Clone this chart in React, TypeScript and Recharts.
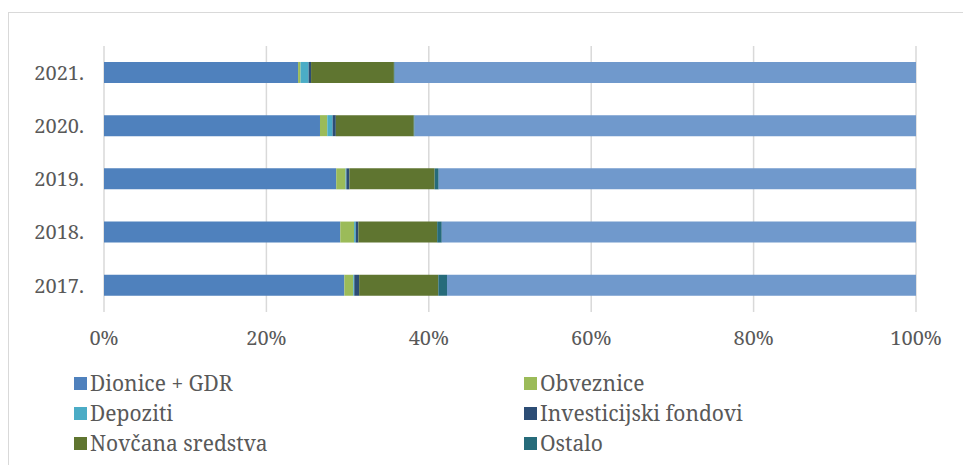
import React from 'react'
import { BarChart, Bar, XAxis, YAxis, CartesianGrid } from 'recharts'

const years = ['2021.', '2020.', '2019.', '2018.', '2017.']

const dionice = [23.9, 26.6, 28.6, 29.1, 29.6]
const obveznice = [0.3, 0.9, 1.15, 1.7, 1.1]
const depoziti = [1.0, 0.65, 0.1, 0.2, 0.12]
const investicijski = [0.3, 0.4, 0.37, 0.33, 0.6]
const novcana = [10.2, 9.6, 10.5, 9.7, 9.75]
const ostalo = [0.1, 0.1, 0.5, 0.57, 1.07]
const preostalo = [64.2, 61.75, 58.78, 58.4, 57.76]

const xTicks = [0, 20, 40, 60, 80, 100]

const series = [
  { key: 'dionice', name: 'Dionice + GDR', values: dionice, color: '#4F81BD' },
  { key: 'obveznice', name: 'Obveznice', values: obveznice, color: '#9BBB59' },
  { key: 'depoziti', name: 'Depoziti', values: depoziti, color: '#4BACC6' },
  { key: 'investicijski', name: 'Investicijski fondovi', values: investicijski, color: '#2C4D75' },
  { key: 'novcana', name: 'Novčana sredstva', values: novcana, color: '#5F7530' },
  { key: 'ostalo', name: 'Ostalo', values: ostalo, color: '#266B7A' },
]
const rest = { key: 'preostalo', values: preostalo, color: '#7099CC' }

const data = years.map((year, i) => {
  const row: Record<string, string | number> = { year }
  series.forEach(s => { row[s.key] = s.values[i] })
  row[rest.key] = rest.values[i]
  return row
})

const font = '"Noto Serif", "DejaVu Serif", serif'
const textColor = '#595959'

// legend drawn as plain html so it doesn't eat into the plot area
const LegendBlock: React.FC = () => (
  <div style={{ position: 'absolute', left: 74, top: 369, width: 760, fontFamily: font, fontSize: 21, color: textColor }}>
    {series.map((s, i) => (
      <div
        key={s.key}
        style={{
          position: 'absolute',
          left: i % 2 === 0 ? 0 : 450,
          top: Math.floor(i / 2) * 30,
          display: 'flex',
          alignItems: 'center',
          whiteSpace: 'nowrap',
          lineHeight: '28px',
        }}
      >
        <span style={{ width: 13, height: 13, background: s.color, display: 'inline-block', marginRight: 3 }} />
        {s.name}
      </div>
    ))}
  </div>
)

export default function App() {
  return (
    <div style={{ position: 'absolute', left: 0, top: 0, width: 963, height: 465, overflow: 'hidden', background: '#fff' }}>
      <div style={{ position: 'absolute', left: 8, top: 12, width: 980, height: 480, border: '1.5px solid #d9d9d9' }} />
      <BarChart
        width={963}
        height={465}
        data={data}
        layout="vertical"
        barCategoryGap="30%"
        margin={{ top: 46, right: 47, bottom: 113, left: 0 }}
        style={{ position: 'absolute', left: 0, top: 0 }}
      >
        <CartesianGrid horizontal={false} stroke="#d9d9d9" strokeWidth={1.5} />
        <XAxis
          type="number"
          domain={[0, 100]}
          ticks={xTicks}
          tickFormatter={(v: number) => `${v}%`}
          axisLine={false}
          tickLine={false}
          tickMargin={13}
          height={40}
          tick={{ fill: textColor, fontFamily: font, fontSize: 20 }}
        />
        <YAxis
          type="category"
          dataKey="year"
          width={104}
          axisLine={false}
          tickLine={false}
          tickMargin={14}
          tick={{ fill: textColor, fontFamily: font, fontSize: 20 }}
        />
        {series.map(s => (
          <Bar key={s.key} dataKey={s.key} name={s.name} stackId="a" fill={s.color} isAnimationActive={false} />
        ))}
        <Bar dataKey={rest.key} stackId="a" fill={rest.color} legendType="none" isAnimationActive={false} />
      </BarChart>
      <LegendBlock />
    </div>
  )
}
